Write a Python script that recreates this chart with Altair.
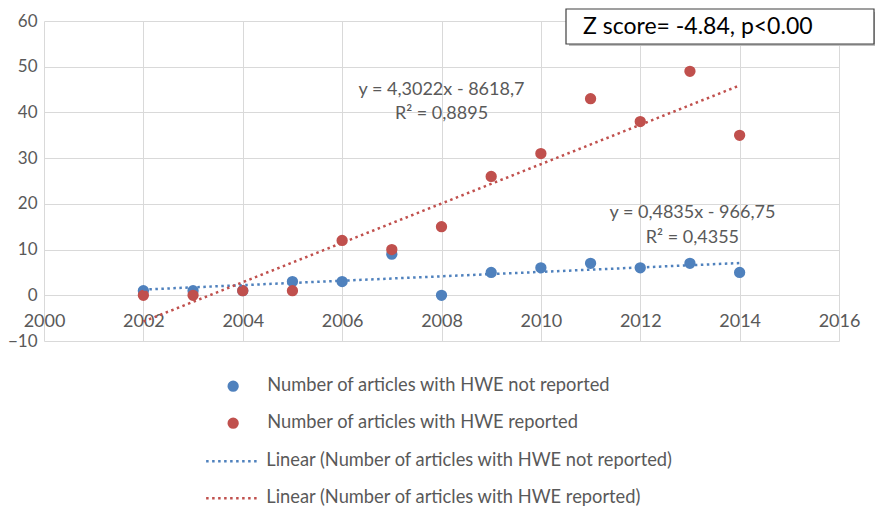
import altair as alt
import pandas as pd

years = list(range(2002, 2015))
not_reported = [1, 1, 1, 3, 3, 9, 0, 5, 6, 7, 6, 7, 5]
reported = [0, 0, 1, 1, 12, 10, 15, 26, 31, 43, 38, 49, 35]
series_names = ["Number of articles with HWE not reported",
                "Number of articles with HWE reported"]
trend_names = ["Linear (Number of articles with HWE not reported)",
               "Linear (Number of articles with HWE reported)"]
colors = ["#4F81BD", "#C0504D"]

x_ticks = list(range(2000, 2017, 2))
y_ticks = list(range(-10, 61, 10))

eq_text = ["y = 4,3022x - 8618,7", "R² = 0,8895",
           "y = 0,4835x - 966,75", "R² = 0,4355"]
eq_x = [2008.0, 2008.0, 2013.05, 2013.05]
eq_y = [44.8, 39.7, 17.9, 12.6]

z_text = ["Z score= -4.84, p<0.00"]

FONT = "Lato"
GRAY = "#595959"

rows = []
for name, trend, vals in zip(series_names, trend_names, [not_reported, reported]):
    for yr, v in zip(years, vals):
        rows.append({"year": yr, "value": v, "series": name, "trend": trend})
df = pd.DataFrame(rows)

eq_df = pd.DataFrame({"x": eq_x, "y": eq_y, "t": eq_text})
z_df = pd.DataFrame({"t": z_text})

x_enc = alt.X("year:Q",
              scale=alt.Scale(domain=[2000, 2016], nice=False, zero=False),
              axis=alt.Axis(values=x_ticks, format="d", offset=-45, domain=False,
                            ticks=False, labelPadding=16, labelFontSize=18,
                            labelFont=FONT, labelColor=GRAY, gridColor="#d9d9d9",
                            labelFlush=False, title=None))
y_enc = alt.Y("value:Q",
              scale=alt.Scale(domain=[-10, 60], nice=False, zero=False),
              axis=alt.Axis(values=y_ticks, domain=False, ticks=False,
                            labelPadding=7, labelFontSize=17, labelFont=FONT,
                            labelColor=GRAY, gridColor="#d9d9d9", title=None))

base = alt.Chart(df)

points = base.mark_circle(size=128, opacity=1).encode(
    x=x_enc, y=y_enc,
    color=alt.Color("series:N",
                    scale=alt.Scale(domain=series_names, range=colors),
                    legend=alt.Legend(orient="none", legendX=180, legendY=356,
                                      title=None, labelFont=FONT, labelFontSize=18.3,
                                      labelColor=GRAY, symbolSize=128,
                                      symbolType="circle", labelOffset=25,
                                      rowPadding=18, padding=0, labelLimit=700,
                                      symbolStrokeWidth=0)),
)

lines = base.transform_regression(
    "year", "value", groupby=["trend"]
).mark_line(strokeWidth=2.5, strokeDash=[2.5, 3.5]).encode(
    x="year:Q", y="value:Q",
    color=alt.Color("trend:N",
                    scale=alt.Scale(domain=trend_names, range=colors),
                    legend=alt.Legend(orient="none", legendX=179, legendY=431,
                                      title=None, labelFont=FONT, labelFontSize=18.3,
                                      labelColor=GRAY, symbolSize=128,
                                      symbolType="M-4.6,0H4.6", symbolStrokeWidth=2.5,
                                      symbolDash=[2.5, 3.5], labelOffset=25,
                                      rowPadding=18, padding=0, labelLimit=700)),
)

eqs = alt.Chart(eq_df).mark_text(font=FONT, fontSize=18, color=GRAY,
                                 align="center", baseline="middle").encode(
    x="x:Q", y="y:Q", text="t:N")

shadow = alt.Chart(z_df).mark_rect(fill="#bfbfbf").encode(
    x=alt.value(525), x2=alt.value(833), y=alt.value(-9), y2=alt.value(25))
box = alt.Chart(z_df).mark_rect(fill="white", stroke="#404040", strokeWidth=1.2).encode(
    x=alt.value(522), x2=alt.value(830), y=alt.value(-12), y2=alt.value(23))
ztext = alt.Chart(z_df).mark_text(font=FONT, fontSize=23, color="black",
                                  align="left", baseline="middle").encode(
    x=alt.value(539), y=alt.value(6), text="t:N")

chart = alt.layer(points, lines, eqs, shadow, box, ztext).resolve_scale(
    color="independent"
).properties(
    width=795, height=320,
    padding={"left": 36, "top": 13, "right": 36, "bottom": 165},
    autosize=alt.AutoSizeParams(type="none"),
).configure_view(stroke=None)

chart.save("out.html", embed_options={"renderer": "svg", "actions": False})
